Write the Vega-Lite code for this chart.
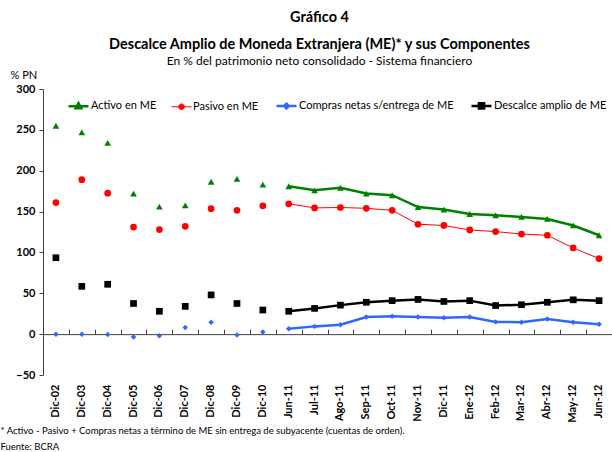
{
  "$schema": "https://vega.github.io/schema/vega-lite/v6.json",
  "width": 569,
  "height": 286,
  "autosize": {"type": "none"},
  "padding": {"left": 43, "top": 89, "right": 0, "bottom": 77},
  "background": "white",
  "config": {"font": "Lato", "view": {"stroke": null}},
  "title": {
    "text": ["Gráfico 4", "Descalce Amplio de Moneda Extranjera (ME)* y sus Componentes"],
    "subtitle": "En % del patrimonio neto consolidado - Sistema financiero",
    "fontSize": 14.5,
    "fontWeight": "bold",
    "lineHeight": 27,
    "subtitleFontSize": 12,
    "subtitleFontWeight": "normal",
    "subtitlePadding": 4,
    "anchor": "middle",
    "offset": 1,
    "dx": -8,
    "color": "black",
    "subtitleColor": "black"
  },
  "data": {
    "values": [
      {"fecha": "Dic-02", "tramo": "anual", "Activo en ME": 255, "Pasivo en ME": 161, "Compras netas s/entrega de ME": 0, "Descalce amplio de ME": 93.5},
      {"fecha": "Dic-03", "tramo": "anual", "Activo en ME": 247, "Pasivo en ME": 189, "Compras netas s/entrega de ME": 0, "Descalce amplio de ME": 58.5},
      {"fecha": "Dic-04", "tramo": "anual", "Activo en ME": 234, "Pasivo en ME": 172.5, "Compras netas s/entrega de ME": -0.5, "Descalce amplio de ME": 61},
      {"fecha": "Dic-05", "tramo": "anual", "Activo en ME": 172, "Pasivo en ME": 131, "Compras netas s/entrega de ME": -3.5, "Descalce amplio de ME": 37.5},
      {"fecha": "Dic-06", "tramo": "anual", "Activo en ME": 156, "Pasivo en ME": 128, "Compras netas s/entrega de ME": -2, "Descalce amplio de ME": 28},
      {"fecha": "Dic-07", "tramo": "anual", "Activo en ME": 157.5, "Pasivo en ME": 132, "Compras netas s/entrega de ME": 8, "Descalce amplio de ME": 34},
      {"fecha": "Dic-08", "tramo": "anual", "Activo en ME": 186.5, "Pasivo en ME": 153.5, "Compras netas s/entrega de ME": 14.5, "Descalce amplio de ME": 48},
      {"fecha": "Dic-09", "tramo": "anual", "Activo en ME": 190, "Pasivo en ME": 151.5, "Compras netas s/entrega de ME": -1, "Descalce amplio de ME": 37.5},
      {"fecha": "Dic-10", "tramo": "anual", "Activo en ME": 183, "Pasivo en ME": 157, "Compras netas s/entrega de ME": 2.5, "Descalce amplio de ME": 29.5},
      {"fecha": "Jun-11", "tramo": "mensual", "Activo en ME": 181, "Pasivo en ME": 159.5, "Compras netas s/entrega de ME": 6.5, "Descalce amplio de ME": 28},
      {"fecha": "Jul-11", "tramo": "mensual", "Activo en ME": 176, "Pasivo en ME": 154.5, "Compras netas s/entrega de ME": 9.5, "Descalce amplio de ME": 31.5},
      {"fecha": "Ago-11", "tramo": "mensual", "Activo en ME": 179, "Pasivo en ME": 155, "Compras netas s/entrega de ME": 11.5, "Descalce amplio de ME": 35.5},
      {"fecha": "Sep-11", "tramo": "mensual", "Activo en ME": 172, "Pasivo en ME": 154, "Compras netas s/entrega de ME": 21, "Descalce amplio de ME": 39},
      {"fecha": "Oct-11", "tramo": "mensual", "Activo en ME": 170, "Pasivo en ME": 151.5, "Compras netas s/entrega de ME": 22, "Descalce amplio de ME": 41},
      {"fecha": "Nov-11", "tramo": "mensual", "Activo en ME": 155.5, "Pasivo en ME": 134.5, "Compras netas s/entrega de ME": 21, "Descalce amplio de ME": 42.5},
      {"fecha": "Dic-11", "tramo": "mensual", "Activo en ME": 152.5, "Pasivo en ME": 133, "Compras netas s/entrega de ME": 20, "Descalce amplio de ME": 40},
      {"fecha": "Ene-12", "tramo": "mensual", "Activo en ME": 147, "Pasivo en ME": 127.5, "Compras netas s/entrega de ME": 21, "Descalce amplio de ME": 41},
      {"fecha": "Feb-12", "tramo": "mensual", "Activo en ME": 145.5, "Pasivo en ME": 125.5, "Compras netas s/entrega de ME": 15, "Descalce amplio de ME": 35},
      {"fecha": "Mar-12", "tramo": "mensual", "Activo en ME": 143.5, "Pasivo en ME": 122.5, "Compras netas s/entrega de ME": 14.5, "Descalce amplio de ME": 36},
      {"fecha": "Abr-12", "tramo": "mensual", "Activo en ME": 141, "Pasivo en ME": 121, "Compras netas s/entrega de ME": 18.5, "Descalce amplio de ME": 39},
      {"fecha": "May-12", "tramo": "mensual", "Activo en ME": 133, "Pasivo en ME": 105.5, "Compras netas s/entrega de ME": 14.5, "Descalce amplio de ME": 42},
      {"fecha": "Jun-12", "tramo": "mensual", "Activo en ME": 121, "Pasivo en ME": 92.5, "Compras netas s/entrega de ME": 12, "Descalce amplio de ME": 41}
    ]
  },
  "transform": [
    {"fold": ["Activo en ME", "Pasivo en ME", "Compras netas s/entrega de ME", "Descalce amplio de ME"], "as": ["serie", "valor"]}
  ],
  "encoding": {
    "y": {
      "field": "valor",
      "type": "quantitative",
      "scale": {"domain": [-50, 300], "nice": false, "zero": false},
      "axis": {
        "title": "% PN",
        "titleAngle": 0,
        "titleX": -33,
        "titleY": -9,
        "titleAlign": "left",
        "titleBaseline": "bottom",
        "titleFontWeight": "normal",
        "titleFontSize": 11,
        "titleColor": "black",
        "values": [-50, 0, 50, 100, 150, 200, 250, 300],
        "labelFontWeight": "bold",
        "labelFontSize": 11,
        "labelColor": "black",
        "tickSize": 4,
        "labelPadding": 4,
        "grid": false,
        "domainColor": "#404040",
        "tickColor": "#404040"
      }
    },
    "color": {
      "field": "serie",
      "type": "nominal",
      "scale": {
        "domain": ["Activo en ME", "Pasivo en ME", "Compras netas s/entrega de ME", "Descalce amplio de ME"],
        "range": ["#008000", "#FF0000", "#3366FF", "#000000"]
      },
      "legend": {
        "orient": "none",
        "legendX": 24,
        "legendY": 5,
        "direction": "horizontal",
        "title": null,
        "symbolType": "M-1,0H1M-0.26,-0.26H0.26V0.26H-0.26Z",
        "symbolSize": 400,
        "symbolStrokeWidth": 2,
        "symbolOpacity": 1,
        "labelFontSize": 11,
        "labelColor": "black",
        "columnPadding": 12,
        "labelOffset": 1,
        "padding": 0,
        "encoding": {
          "symbols": {
            "shape": {"value": {"expr": "datum.value === 'Activo en ME' ? 'M-1,0H1M0,-0.3L0.28,0.22L-0.28,0.22Z' : datum.value === 'Pasivo en ME' ? 'M-1,0H1M0.28,0A0.28,0.28 0 1 1 -0.28,0A0.28,0.28 0 1 1 0.28,0Z' : datum.value === 'Compras netas s/entrega de ME' ? 'M-1,0H1M0,-0.24L0.24,0L0,0.24L-0.24,0Z' : 'M-1,0H1M-0.26,-0.26H0.26V0.26H-0.26Z'"}},
            "stroke": {"value": {"expr": "scale('color', datum.value)"}},
            "fill": {"value": {"expr": "scale('color', datum.value)"}},
            "strokeWidth": {"value": {"expr": "datum.value === 'Pasivo en ME' ? 1.2 : 2.2"}}
          }
        }
      }
    }
  },
  "layer": [
    {
      "transform": [{"filter": "datum.tramo === 'mensual'"}],
      "mark": {"type": "line"},
      "encoding": {
        "x": {
          "field": "fecha",
          "type": "ordinal",
          "sort": null,
          "scale": {"type": "band", "paddingInner": 0, "paddingOuter": 0, "domain": ["Dic-02", "Dic-03", "Dic-04", "Dic-05", "Dic-06", "Dic-07", "Dic-08", "Dic-09", "Dic-10", "Jun-11", "Jul-11", "Ago-11", "Sep-11", "Oct-11", "Nov-11", "Dic-11", "Ene-12", "Feb-12", "Mar-12", "Abr-12", "May-12", "Jun-12"]},
          "axis": {"orient": "top", "offset": -245.14, "labels": false, "title": null, "domainColor": "#404040", "tickColor": "#404040", "tickSize": 5, "tickBand": "extent", "grid": false}
        },
        "strokeWidth": {
          "field": "serie",
          "type": "ordinal",
          "legend": null,
          "scale": {
            "type": "ordinal",
            "domain": ["Activo en ME", "Pasivo en ME", "Compras netas s/entrega de ME", "Descalce amplio de ME"],
            "range": [2.5, 1, 2.5, 2.5]
          }
        }
      }
    },
    {
      "transform": [{"filter": "datum.serie === 'Activo en ME'"}],
      "mark": {"type": "point", "filled": true, "opacity": 1, "shape": "triangle-up", "size": 45},
      "encoding": {
        "x": {
          "field": "fecha",
          "type": "ordinal",
          "sort": null,
          "scale": {"type": "band", "paddingInner": 0, "paddingOuter": 0},
          "axis": {
            "orient": "bottom",
            "domain": false,
            "ticks": false,
            "grid": false,
            "labelAngle": -90,
            "labelFontWeight": "bold",
            "labelFontSize": 11,
            "labelPadding": 9,
            "labelColor": "black",
            "title": ["* Activo - Pasivo + Compras netas a término de ME sin entrega de subyacente (cuentas de orden).", "Fuente: BCRA"],
            "titleX": -43,
            "titleY": 50,
            "titleAlign": "left",
            "titleBaseline": "top",
            "titleFontWeight": "normal",
            "titleFontSize": 9.5,
            "titleLineHeight": 16,
            "titleColor": "black"
          }
        }
      }
    },
    {
      "transform": [{"filter": "datum.serie === 'Pasivo en ME'"}],
      "mark": {"type": "point", "filled": true, "opacity": 1, "shape": "circle", "size": 45},
      "encoding": {
        "x": {"field": "fecha", "type": "ordinal", "sort": null, "scale": {"type": "band", "paddingInner": 0, "paddingOuter": 0}, "axis": null}
      }
    },
    {
      "transform": [{"filter": "datum.serie === 'Compras netas s/entrega de ME'"}],
      "mark": {"type": "point", "filled": true, "opacity": 1, "shape": "diamond", "size": 30},
      "encoding": {
        "x": {"field": "fecha", "type": "ordinal", "sort": null, "scale": {"type": "band", "paddingInner": 0, "paddingOuter": 0}, "axis": null}
      }
    },
    {
      "transform": [{"filter": "datum.serie === 'Descalce amplio de ME'"}],
      "mark": {"type": "point", "filled": true, "opacity": 1, "shape": "square", "size": 45},
      "encoding": {
        "x": {"field": "fecha", "type": "ordinal", "sort": null, "scale": {"type": "band", "paddingInner": 0, "paddingOuter": 0}, "axis": null}
      }
    }
  ],
  "resolve": {"axis": {"x": "independent"}}
}
